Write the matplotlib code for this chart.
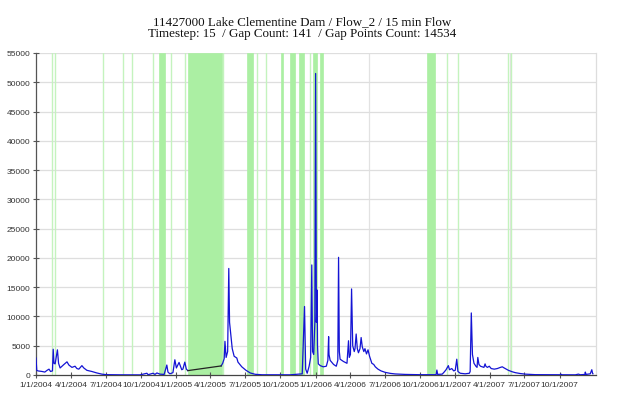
import matplotlib
matplotlib.use("Agg")
import matplotlib.pyplot as plt
import pandas as pd

# ---- data ----
title_line1 = "11427000 Lake Clementine Dam / Flow_2 / 15 min Flow"
title_line2 = "Timestep: 15  / Gap Count: 141  / Gap Points Count: 14534"

flow_dates = [
    "2004-01-01", "2004-01-03", "2004-01-06", "2004-01-17", "2004-01-24", "2004-01-30",
    "2004-02-04", "2004-02-08", "2004-02-13", "2004-02-15", "2004-02-17", "2004-02-20",
    "2004-02-26", "2004-02-29", "2004-03-04", "2004-03-09", "2004-03-14", "2004-03-22",
    "2004-03-27", "2004-04-04", "2004-04-12", "2004-04-17", "2004-04-22", "2004-04-30",
    "2004-05-05", "2004-05-13", "2004-05-26", "2004-06-08", "2004-06-21", "2004-07-02",
    "2004-08-08", "2004-09-29", "2004-10-17", "2004-10-20", "2004-11-02", "2004-11-07",
    "2004-11-12", "2004-11-20", "2004-12-01", "2004-12-08", "2004-12-11", "2004-12-16",
    "2004-12-24", "2004-12-29", "2005-01-02", "2005-01-09", "2005-01-16", "2005-01-19",
    "2005-01-24", "2005-01-28", "2005-02-01",
]
flow_values = [
    2900, 800, 700, 600, 500, 800,
    1000, 600, 700, 4400, 2000, 1900,
    4300, 2000, 1200, 1500, 1800, 2250,
    1700, 1300, 1500, 1100, 1000, 1600,
    1200, 800, 600, 350, 150, 60,
    30, 20, 300, 50, 300, 100,
    350, 150, 100, 1700, 500, 200,
    400, 2600, 1200, 2150, 900, 1000,
    2200, 1000, 750,
]

flow_dates_b = [
    "2005-04-29", "2005-05-03", "2005-05-07", "2005-05-09", "2005-05-12", "2005-05-16",
    "2005-05-19", "2005-05-21", "2005-05-24", "2005-05-28", "2005-06-02", "2005-06-09",
    "2005-06-12", "2005-06-17", "2005-06-22", "2005-07-03", "2005-07-14", "2005-07-27",
    "2005-08-14", "2005-10-26", "2005-11-27", "2005-12-03", "2005-12-06", "2005-12-10",
    "2005-12-15", "2005-12-19", "2005-12-22", "2005-12-24", "2005-12-27", "2005-12-30",
    "2006-01-01", "2006-01-03", "2006-01-05", "2006-01-06", "2006-01-08", "2006-01-13",
    "2006-01-21", "2006-01-29", "2006-02-02", "2006-02-04", "2006-02-05", "2006-02-08",
    "2006-02-17", "2006-02-24", "2006-02-28", "2006-03-02", "2006-03-04", "2006-03-06",
    "2006-03-15", "2006-03-24", "2006-03-28", "2006-03-30", "2006-04-02", "2006-04-05",
    "2006-04-08", "2006-04-12", "2006-04-14", "2006-04-17", "2006-04-20", "2006-04-23",
    "2006-04-27", "2006-04-30", "2006-05-03", "2006-05-07", "2006-05-10", "2006-05-14",
    "2006-05-18", "2006-05-22", "2006-05-28", "2006-06-02", "2006-06-06", "2006-06-13",
    "2006-06-21", "2006-07-02", "2006-07-15", "2006-07-28", "2006-08-23", "2006-10-01",
    "2006-11-12", "2006-11-14", "2006-11-16", "2006-11-28", "2006-12-03", "2006-12-08",
    "2006-12-14", "2006-12-17", "2006-12-23", "2006-12-28", "2007-01-01", "2007-01-05",
    "2007-01-08", "2007-01-14", "2007-01-27", "2007-02-07", "2007-02-09", "2007-02-12",
    "2007-02-15", "2007-02-19", "2007-02-24", "2007-02-27", "2007-03-01", "2007-03-04",
    "2007-03-08", "2007-03-17", "2007-03-20", "2007-03-22", "2007-03-26", "2007-03-31",
    "2007-04-05", "2007-04-13", "2007-04-21", "2007-04-29", "2007-05-04", "2007-05-09",
    "2007-05-20", "2007-05-30", "2007-06-07", "2007-06-20", "2007-07-03", "2007-07-29",
    "2007-10-03", "2007-10-04", "2007-10-06", "2007-11-11", "2007-11-19", "2007-11-24",
    "2007-12-06", "2007-12-07", "2007-12-09", "2007-12-20", "2007-12-24", "2007-12-26",
    "2007-12-27",
]
flow_values_b = [
    1550, 2000, 2800, 5750, 3000, 4000,
    18200, 9000, 7000, 4500, 3200, 2900,
    2200, 1800, 1400, 800, 350, 120,
    40, 30, 200, 11700, 1000, 300,
    1500, 3000, 18800, 4000, 3500, 9000,
    51500, 9000, 14500, 5000, 1900, 1600,
    1400, 1500, 2500, 6550, 3500, 2500,
    1800, 1500, 2500, 20100, 4000, 2700,
    2300, 2000, 5850, 3000, 3500, 14700,
    5000, 4000, 4500, 7000, 4500, 3800,
    4500, 6400, 4800, 4000, 4500, 3600,
    4300, 3200, 2000, 1800, 1400, 1000,
    700, 450, 280, 180, 100, 50,
    50, 850, 100, 150, 500, 900,
    1600, 900, 1100, 700, 800, 2700,
    600, 300, 200, 300, 600, 10600,
    3500, 2000, 1500, 1300, 3000, 1800,
    1500, 1300, 1900, 1500, 1300, 1500,
    1100, 1000, 1100, 1300, 1400, 1200,
    800, 550, 400, 250, 150, 60,
    40, 150, 40, 30, 150, 40,
    100, 500, 100, 200, 900, 300,
    200,
]

# interpolated segment across the long gap
fill_dates = ["2005-02-01", "2005-04-29"]
fill_values = [750, 1550]

gap_starts = [
    "2004-02-12", "2004-02-19", "2004-06-24", "2004-08-15", "2004-09-08", "2004-11-02",
    "2004-11-17", "2004-12-19", "2005-01-25", "2005-02-02", "2005-05-04", "2005-07-05",
    "2005-08-02", "2005-08-24", "2005-10-03", "2005-10-26", "2005-11-19", "2005-12-18",
    "2005-12-26", "2006-01-13", "2006-10-20", "2006-12-10", "2007-01-07", "2007-05-19",
    "2007-05-27",
]
gap_ends = [
    "2004-02-12", "2004-02-19", "2004-06-24", "2004-08-15", "2004-09-08", "2004-11-02",
    "2004-12-01", "2004-12-19", "2005-01-25", "2005-04-29", "2005-05-04", "2005-07-20",
    "2005-08-02", "2005-08-24", "2005-10-08", "2005-11-06", "2005-11-30", "2005-12-18",
    "2006-01-04", "2006-01-19", "2006-11-09", "2006-12-10", "2007-01-07", "2007-05-19",
    "2007-05-27",
]

grid_x_dates = ["2006-05-21", "2007-05-23"]

y_ticks = list(range(0, 55001, 5000))
x_tick_dates = pd.date_range("2004-01-01", "2007-10-01", freq="QS")

# ---- figure ----
fig = plt.figure(figsize=(6.24, 4.06), dpi=100)
ax = fig.add_axes([36 / 624, 30 / 406, 560 / 624, 322 / 406])

GREEN = "#abefa3"
THIN_GREEN = "#c4f3be"
for s, e in zip(gap_starts, gap_ends):
    s = pd.Timestamp(s)
    e = pd.Timestamp(e)
    if s == e:
        ax.axvline(s, color=THIN_GREEN, lw=1.0, zorder=1)
    else:
        ax.axvspan(s, e + pd.Timedelta(days=1), facecolor=GREEN, edgecolor=GREEN,
                   lw=0.5, zorder=1)

for g in grid_x_dates:
    ax.axvline(pd.Timestamp(g), color="#e2e2e2", lw=0.9, zorder=0.5)

for yv in y_ticks[1:]:
    ax.axhline(yv, color="#dedede", lw=0.9, zorder=0.5)

BLUE = "#1414d4"
ax.plot(pd.to_datetime(flow_dates), flow_values, color=BLUE, lw=0.9, zorder=3)
ax.plot(pd.to_datetime(flow_dates_b), flow_values_b, color=BLUE, lw=0.9, zorder=3)
ax.plot(pd.to_datetime(fill_dates), fill_values, color="#222222", lw=0.9, zorder=3)

ax.set_xlim(pd.Timestamp("2004-01-01"), pd.Timestamp("2008-01-04"))
ax.set_ylim(0, 55000)

ax.set_yticks(y_ticks)
ax.set_yticklabels([str(v) for v in y_ticks])
ax.set_xticks(x_tick_dates)
ax.set_xticklabels([f"{d.month}/{d.day}/{d.year}" for d in x_tick_dates])

ax.spines["top"].set_visible(False)
ax.spines["right"].set_color("#dddddd")
ax.spines["right"].set_linewidth(0.9)
ax.spines["left"].set_color("#555555")
ax.spines["left"].set_linewidth(0.9)
ax.spines["bottom"].set_color("#444444")
ax.spines["bottom"].set_linewidth(0.9)

ax.tick_params(axis="both", direction="inout", length=5, width=0.8, color="#555555",
               labelsize=6.0, labelcolor="#333333", pad=1.5)
for lbl in ax.get_xticklabels() + ax.get_yticklabels():
    lbl.set_family(["Liberation Sans", "DejaVu Sans"])

fig.text(302 / 624, 1 - 22 / 406, title_line1, ha="center", va="center",
         family=["Liberation Serif", "DejaVu Serif"], fontsize=9.4, color="#111111")
fig.text(302 / 624, 1 - 34.5 / 406, title_line2, ha="center", va="center",
         family=["Liberation Serif", "DejaVu Serif"], fontsize=9.4, color="#111111")

fig.savefig("out.png", dpi=100, facecolor="white")
